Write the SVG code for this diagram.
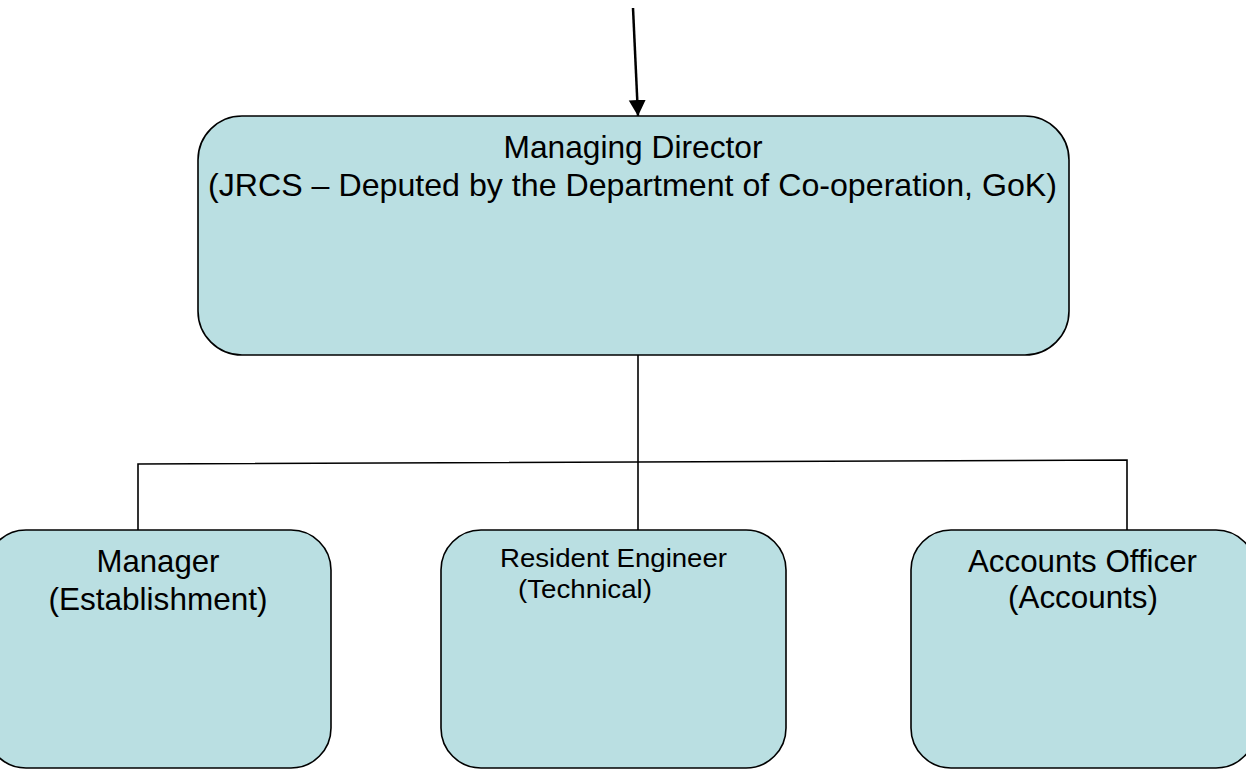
<svg xmlns="http://www.w3.org/2000/svg" width="1246" height="769" viewBox="0 0 1246 769">
<defs>
<style>
.box{fill:#BADFE2;stroke:#000;stroke-width:1.6}
.t{font-family:"Liberation Sans",Arial,sans-serif;fill:#000}
.c{fill:none;stroke:#000;stroke-width:1.6}
</style>
<marker id="ah" markerUnits="userSpaceOnUse" markerWidth="18" markerHeight="18" refX="16" refY="8.5" orient="auto" viewBox="0 0 18 17">
<path d="M0,0 L16,8.5 L0,17 Z" fill="#000"/>
</marker>
</defs>
<rect width="1246" height="769" fill="#fff"/>
<g id="connectors">
<line class="c" x1="633" y1="8" x2="638" y2="116" marker-end="url(#ah)" style="stroke-width:2.5"/>
<line class="c" x1="638" y1="355" x2="638" y2="530"/>
<polyline class="c" points="138,530 138,464 1127,460 1127,530"/>
</g>
<g id="md">
<rect class="box" x="198" y="116" width="871" height="239" rx="44" ry="44"/>
<text class="t" x="633" y="158" font-size="31.5" text-anchor="middle" textLength="259" lengthAdjust="spacingAndGlyphs">Managing Director</text>
<text class="t" x="632.5" y="196" font-size="31.5" text-anchor="middle" textLength="849" lengthAdjust="spacingAndGlyphs">(JRCS – Deputed by the Department of Co-operation, GoK)</text>
</g>
<g id="manager">
<rect class="box" x="-14" y="530" width="345" height="238" rx="40" ry="40"/>
<text class="t" x="158" y="572" font-size="31.5" text-anchor="middle" textLength="123" lengthAdjust="spacingAndGlyphs">Manager</text>
<text class="t" x="158" y="610" font-size="31.5" text-anchor="middle" textLength="219" lengthAdjust="spacingAndGlyphs">(Establishment)</text>
</g>
<g id="re">
<rect class="box" x="441" y="530" width="345" height="238" rx="40" ry="40"/>
<text class="t" x="500" y="567" font-size="26" textLength="227" lengthAdjust="spacingAndGlyphs">Resident Engineer</text>
<text class="t" x="518" y="598" font-size="26" textLength="134" lengthAdjust="spacingAndGlyphs">(Technical)</text>
</g>
<g id="ao">
<rect class="box" x="911" y="530" width="345" height="238" rx="40" ry="40"/>
<text class="t" x="1082.5" y="572" font-size="31.5" text-anchor="middle" textLength="229" lengthAdjust="spacingAndGlyphs">Accounts Officer</text>
<text class="t" x="1083" y="608" font-size="31.5" text-anchor="middle" textLength="150" lengthAdjust="spacingAndGlyphs">(Accounts)</text>
</g>
</svg>
